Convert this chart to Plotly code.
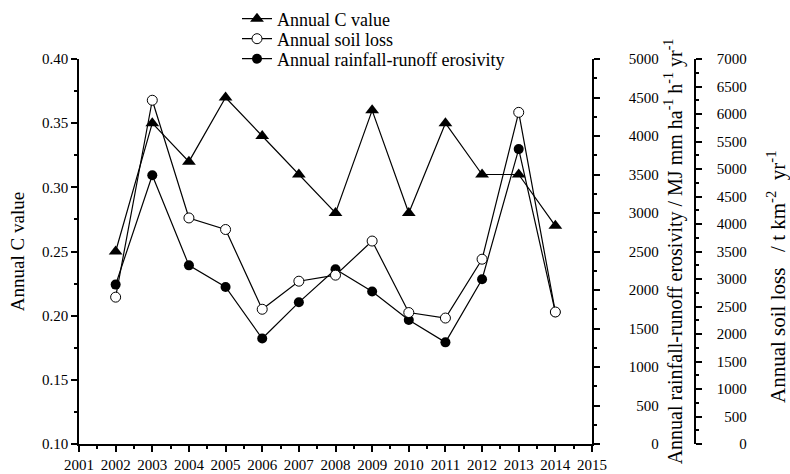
import plotly.graph_objects as go

years = [2002, 2003, 2004, 2005, 2006, 2007, 2008, 2009, 2010, 2011, 2012, 2013, 2014]
c_value = [0.25, 0.35, 0.32, 0.37, 0.34, 0.31, 0.28, 0.36, 0.28, 0.35, 0.31, 0.31, 0.27]
soil_loss = [2670, 6250, 4110, 3900, 2450, 2960, 3070, 3690, 2390, 2290, 3360, 6030, 2400]
erosivity = [2070, 3490, 2320, 2040, 1370, 1840, 2270, 1980, 1610, 1320, 2140, 3830, 1710]

x_ticks = list(range(2001, 2016))
c_ticks = [0.10, 0.15, 0.20, 0.25, 0.30, 0.35, 0.40]
ero_ticks = list(range(0, 5001, 500))
soil_ticks = list(range(0, 7001, 500))

FONT = "Liberation Serif, Times New Roman, serif"
W, H = 790, 474
L, R, T, B = 79, 10, 59, 30
pw = W - L - R
ph = H - T - B
x_end = (592 - L) / pw
soil_pos = (695 - L) / pw
NB = "\u00a0"


def pad(v, width):
    s = str(v)
    return "\u2007" * (width - len(s)) + s


fig = go.Figure()
fig.add_trace(go.Scatter(
    x=years, y=c_value, name="Annual C value", mode="lines+markers",
    line=dict(color="black", width=1.2),
    marker=dict(symbol="triangle-up", size=12, color="black"),
    yaxis="y", legend="legend"))
fig.add_trace(go.Scatter(
    x=years, y=soil_loss, name="Annual soil loss", mode="lines+markers",
    line=dict(color="black", width=1.2),
    marker=dict(symbol="circle", size=10, color="white",
                line=dict(color="black", width=1)),
    yaxis="y3", legend="legend2"))
fig.add_trace(go.Scatter(
    x=years, y=erosivity, name="Annual rainfall-runoff erosivity", mode="lines+markers",
    line=dict(color="black", width=1.2),
    marker=dict(symbol="circle", size=10, color="black"),
    yaxis="y2", legend="legend3"))

axis_common = dict(showgrid=False, zeroline=False, showline=True, linecolor="black",
                   linewidth=1.5, ticks="outside", tickcolor="black", ticklen=6,
                   tickwidth=1.5, automargin=False,
                   tickfont=dict(family=FONT, size=15, color="black"))
minor_common = dict(ticklen=3, tickcolor="black", ticks="outside", tickwidth=1.5)


def leg(yc):
    return dict(x=(237 - L) / pw, y=1 + (T - yc) / ph, xanchor="left", yanchor="middle",
                bgcolor="rgba(0,0,0,0)", font=dict(family=FONT, size=18, color="black"))


soil_title = ("Annual soil loss" + NB * 3 + "/ t km<sup>-2</sup>" + NB * 2
              + "yr<sup>-1</sup>")

fig.update_layout(
    width=W, height=H,
    margin=dict(l=L, r=R, t=T, b=B, autoexpand=False),
    paper_bgcolor="white", plot_bgcolor="white",
    font=dict(family=FONT, size=17, color="black"),
    showlegend=True,
    legend=leg(19), legend2=leg(39), legend3=leg(59),
    xaxis=dict(domain=[0, x_end], range=[2001, 2015], tickmode="array",
               tickvals=x_ticks, ticktext=[str(v) for v in x_ticks],
               minor=dict(dtick=0.5, **minor_common),
               **axis_common),
    yaxis=dict(range=[0.10, 0.40], tickmode="array", tickvals=c_ticks,
               ticktext=[f"{v:.2f}" for v in c_ticks],
               minor=dict(dtick=0.025, tick0=0.1, **minor_common),
               title=dict(text="Annual C value", font=dict(family=FONT, size=19), standoff=12),
               **axis_common),
    yaxis2=dict(range=[0, 5000], overlaying="y", side="right", anchor="x",
                tickmode="array", tickvals=ero_ticks,
                ticktext=[pad(v, 4) for v in ero_ticks],
                ticklabelstandoff=26,
                minor=dict(dtick=250, **minor_common),
                title=dict(text="Annual rainfall-runoff erosivity / MJ mm ha<sup>-1</sup>" + NB
                                + "h<sup>-1</sup>" + NB + "yr<sup>-1</sup>",
                           font=dict(family=FONT, size=20), standoff=10),
                **axis_common),
    yaxis3=dict(range=[0, 7000], overlaying="y", side="right", anchor="free",
                position=soil_pos,
                tickmode="array", tickvals=soil_ticks,
                ticktext=[pad(v, 4) for v in soil_ticks],
                ticklabelstandoff=12,
                minor=dict(dtick=250, **minor_common),
                **axis_common),
    annotations=[dict(text=soil_title, textangle=-90, xref="paper", yref="paper",
                      x=(776 - L) / pw, y=(H - B - 277) / ph, xanchor="center", yanchor="middle",
                      showarrow=False, font=dict(family=FONT, size=21, color="black"))],
)

fig.write_html("out.html")
